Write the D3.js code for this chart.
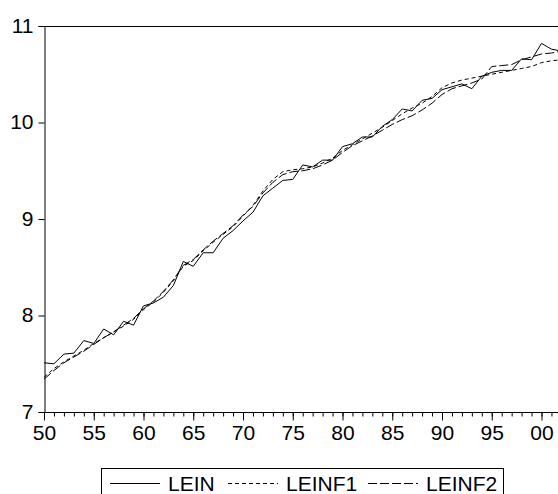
<!DOCTYPE html>
<html>
<head>
<meta charset="utf-8">
<script src="https://cdn.jsdelivr.net/npm/d3@7"></script>
<style>
  body { margin: 0; background: #fff; }
  text { font-family: Arial, "Liberation Sans", sans-serif; fill: #000; }
</style>
</head>
<body>
<div id="chart"></div>
<script>
const width = 558;
const height = 494;

// Years 1950-2002
const years = d3.range(1950, 2003);

const lein = [
  7.51, 7.50, 7.60, 7.61, 7.74, 7.71, 7.86, 7.80, 7.94, 7.90, 8.10,
  8.13, 8.19, 8.31, 8.56, 8.51, 8.65, 8.65, 8.80, 8.88, 8.98,
  9.07, 9.24, 9.32, 9.40, 9.41, 9.56, 9.54, 9.61, 9.61, 9.75,
  9.78, 9.85, 9.85, 9.96, 10.03, 10.14, 10.12, 10.23, 10.25, 10.34,
  10.37, 10.40, 10.35, 10.48, 10.52, 10.54, 10.54, 10.66, 10.65, 10.82,
  10.76, 10.74
];

const leinf1 = [
  7.36, 7.45, 7.52, 7.58, 7.64, 7.71, 7.77, 7.83, 7.89, 7.96, 8.06,
  8.14, 8.24, 8.36, 8.51, 8.57, 8.67, 8.76, 8.84, 8.92, 9.03,
  9.14, 9.29, 9.41, 9.49, 9.51, 9.52, 9.54, 9.58, 9.63, 9.71,
  9.77, 9.83, 9.89, 9.95, 10.02, 10.09, 10.15, 10.20, 10.27, 10.36,
  10.41, 10.44, 10.46, 10.48, 10.50, 10.52, 10.54, 10.56, 10.58, 10.62,
  10.64, 10.65
];

const leinf2 = [
  7.34, 7.43, 7.51, 7.57, 7.63, 7.70, 7.77, 7.83, 7.90, 7.97, 8.07,
  8.15, 8.25, 8.37, 8.52, 8.58, 8.68, 8.77, 8.85, 8.93, 9.04,
  9.13, 9.27, 9.38, 9.46, 9.49, 9.50, 9.52, 9.56, 9.61, 9.69,
  9.76, 9.81, 9.86, 9.92, 9.98, 10.03, 10.07, 10.13, 10.20, 10.29,
  10.35, 10.38, 10.41, 10.45, 10.58, 10.59, 10.60, 10.65, 10.68, 10.71,
  10.72, 10.74
];

const seriesNames = ["LEIN", "LEINF1", "LEINF2"];
const yTicks = [7, 8, 9, 10, 11];
const xTicks = [1950, 1955, 1960, 1965, 1970, 1975, 1980, 1985, 1990, 1995, 2000];

const series = [
  { name: seriesNames[0], values: lein, dash: null },
  { name: seriesNames[1], values: leinf1, dash: "4,3" },
  { name: seriesNames[2], values: leinf2, dash: "9,3" }
];

const plot = { left: 44, top: 26, bottom: 412 };
const pxPerYear = 9.95;

const x = d3.scaleLinear()
  .domain([1950, 2003])
  .range([plot.left, plot.left + 53 * pxPerYear]);

const y = d3.scaleLinear()
  .domain([7, 11])
  .range([plot.bottom, plot.top]);

const svg = d3.select("#chart")
  .append("svg")
  .attr("width", width)
  .attr("height", height);

// Frame: top border
svg.append("line")
  .attr("x1", plot.left).attr("x2", x(2003))
  .attr("y1", plot.top + 0.5).attr("y2", plot.top + 0.5)
  .attr("stroke", "#000");

// Y axis
const yAxis = svg.append("g")
  .attr("transform", `translate(${plot.left + 0.5},0)`)
  .call(d3.axisLeft(y).tickValues(yTicks).tickSize(6).tickPadding(5).tickFormat(d3.format("d")));

yAxis.select(".domain").attr("stroke", "#000");
yAxis.selectAll("text")
  .style("font-size", "21px")
  .attr("dy", "0.29em");

// X axis: minor ticks every year, major every 5
const xMinor = svg.append("g")
  .attr("transform", `translate(0,${plot.bottom + 0.5})`)
  .call(d3.axisBottom(x).tickValues(d3.range(1950, 2003)).tickSize(4).tickFormat(""));
xMinor.select(".domain").remove();

const xAxis = svg.append("g")
  .attr("transform", `translate(0,${plot.bottom + 0.5})`)
  .call(d3.axisBottom(x).tickValues(xTicks).tickSize(8).tickPadding(5)
    .tickFormat(d => String(d % 100).padStart(2, "0")));

xAxis.select(".domain").attr("d", `M${plot.left},0H${x(2003)}`).attr("stroke", "#000");
xAxis.selectAll("text").style("font-size", "21px");

// Lines
const line = d3.line()
  .x((d, i) => x(years[i]))
  .y(d => y(d));

svg.selectAll(".series")
  .data(series)
  .enter()
  .append("path")
  .attr("class", "series")
  .attr("d", d => line(d.values))
  .attr("fill", "none")
  .attr("stroke", "#000")
  .attr("stroke-width", 1)
  .attr("stroke-dasharray", d => d.dash);

// Legend
const legend = svg.append("g");

legend.append("rect")
  .attr("x", 101.5).attr("y", 468.5)
  .attr("width", 402).attr("height", 40)
  .attr("fill", "none")
  .attr("stroke", "#000");

const legendX = [110, 228, 368];

const items = legend.selectAll(".item")
  .data(series)
  .enter()
  .append("g")
  .attr("transform", (d, i) => `translate(${legendX[i]},483)`);

items.append("line")
  .attr("x1", 0).attr("x2", 50)
  .attr("y1", 0.5).attr("y2", 0.5)
  .attr("stroke", "#000")
  .attr("stroke-dasharray", d => d.dash);

items.append("text")
  .attr("x", 58)
  .attr("y", 8)
  .style("font-size", "21px")
  .text(d => d.name);
</script>
</body>
</html>
